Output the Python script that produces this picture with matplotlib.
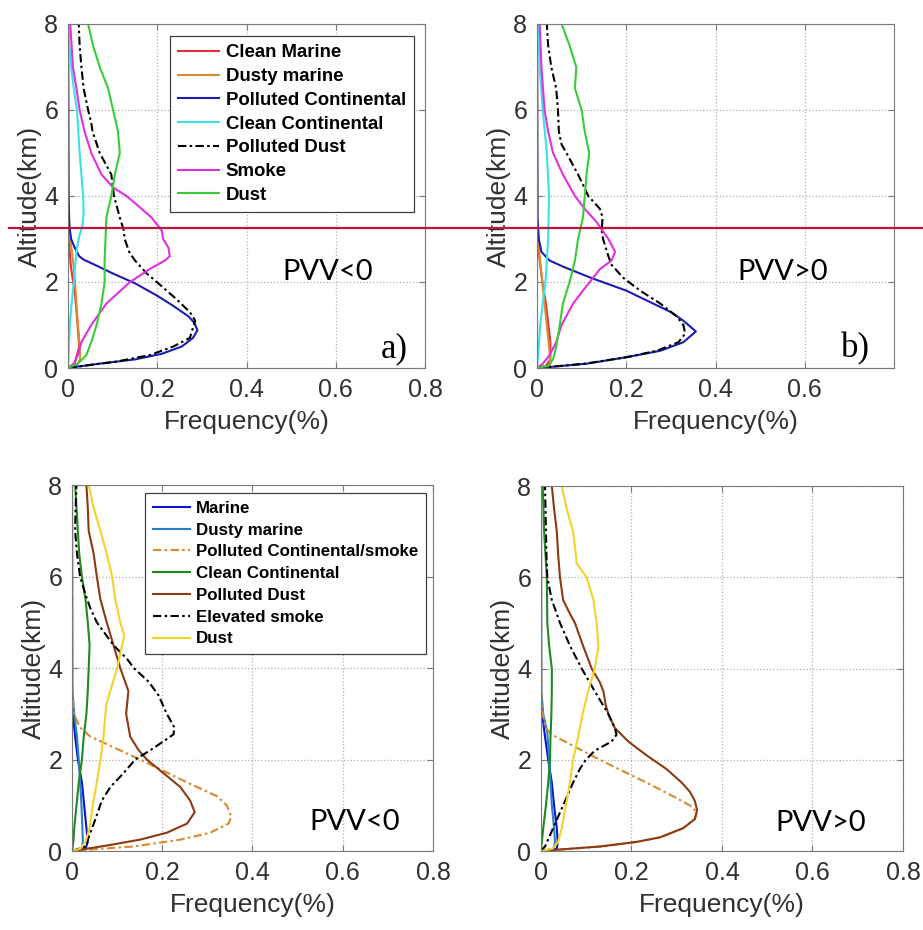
import matplotlib
matplotlib.use('Agg')
from matplotlib import pyplot as plt
from matplotlib.lines import Line2D
import numpy as np

# profiles are (frequency, altitude km) pairs, read bottom to top

# a) PVV<0, 2007-2010 subtypes
a_clean_marine = [(0, 0), (0.015, 0.1), (0.025, 0.5), (0.02, 1.2), (0.015, 1.8), (0.01, 2.1),
                  (0.006, 2.4), (0.003, 2.8), (0.001, 3.1), (0, 3.5), (0, 8)]
a_dusty_marine = [(0, 0), (0.02, 0.05), (0.027, 0.2), (0.027, 0.4), (0.024, 0.8), (0.02, 1.3),
                  (0.017, 1.8), (0.014, 2.2), (0.01, 2.6), (0.005, 3.0), (0.002, 3.5), (0.001, 4.5), (0, 8)]
a_polluted_cont = [(0, 0), (0.02, 0.03), (0.07, 0.1), (0.15, 0.2), (0.21, 0.33), (0.255, 0.5), (0.28, 0.7),
                   (0.29, 0.88), (0.283, 1.05), (0.27, 1.2), (0.235, 1.45), (0.2, 1.68), (0.15, 1.97),
                   (0.1, 2.2), (0.06, 2.4), (0.035, 2.52), (0.025, 2.6), (0.015, 2.8), (0.007, 3.0),
                   (0.003, 3.3), (0.001, 4), (0, 8)]
a_clean_cont = [(0, 0), (0.002, 0.5), (0.004, 1.0), (0.008, 1.5), (0.013, 2.0), (0.016, 2.4), (0.02, 2.8),
                (0.026, 3.1), (0.032, 3.3), (0.035, 3.6), (0.034, 4.0), (0.03, 4.5), (0.026, 5.0),
                (0.022, 5.7), (0.02, 6.0), (0.013, 6.5), (0.007, 7.0), (0.003, 7.5), (0.001, 8)]
a_polluted_dust = [(0, 0), (0.034, 0.05), (0.109, 0.15), (0.183, 0.3), (0.236, 0.5), (0.273, 0.7),
                   (0.279, 0.9), (0.285, 1.1), (0.273, 1.3), (0.243, 1.6), (0.199, 2.0), (0.176, 2.2),
                   (0.15, 2.5), (0.137, 2.7), (0.127, 3.0), (0.125, 3.2), (0.116, 3.5), (0.103, 4.0),
                   (0.097, 4.5), (0.071, 5.0), (0.055, 5.5), (0.052, 5.7), (0.045, 6.0), (0.035, 6.5),
                   (0.03, 7.0), (0.026, 7.5), (0.024, 8.0)]
a_smoke = [(0, 0), (0.013, 0.1), (0.022, 0.3), (0.03, 0.6), (0.052, 1.0), (0.086, 1.5), (0.139, 2.0),
           (0.183, 2.3), (0.217, 2.5), (0.228, 2.6), (0.225, 2.8), (0.213, 3.0), (0.21, 3.2), (0.187, 3.5),
           (0.154, 3.8), (0.131, 4.0), (0.101, 4.2), (0.075, 4.5), (0.052, 5.0), (0.037, 5.5), (0.026, 6.0),
           (0.019, 6.5), (0.011, 7.0), (0.008, 7.5), (0.005, 8.0)]
a_dust = [(0, 0), (0.022, 0.1), (0.041, 0.3), (0.052, 0.6), (0.064, 1.0), (0.075, 1.5), (0.082, 2.0),
          (0.082, 2.5), (0.084, 3.0), (0.086, 3.5), (0.097, 4.0), (0.105, 4.5), (0.116, 5.0), (0.112, 5.5),
          (0.101, 6.0), (0.09, 6.5), (0.071, 7.0), (0.056, 7.5), (0.045, 8.0)]

# b) PVV>0, 2007-2010 subtypes
b_clean_marine = [(0, 0), (0.02, 0.05), (0.03, 0.2), (0.03, 0.6), (0.02, 1.5), (0.012, 2.0), (0.006, 2.5),
                  (0.003, 2.8), (0.001, 3.1), (0, 3.5), (0, 8)]
b_dusty_marine = [(0, 0), (0.025, 0.05), (0.03, 0.1), (0.027, 0.5), (0.017, 1.5), (0.01, 2.2), (0.006, 2.6),
                  (0.003, 3.0), (0.001, 3.5), (0, 8)]
b_polluted_cont = [(0, 0), (0.036, 0.03), (0.111, 0.1), (0.2, 0.25), (0.276, 0.4), (0.328, 0.6),
                   (0.356, 0.85), (0.328, 1.1), (0.3, 1.3), (0.2, 1.8), (0.12, 2.1), (0.06, 2.35),
                   (0.028, 2.5), (0.01, 2.7), (0.004, 3.0), (0.001, 3.5), (0, 8)]
b_clean_cont = [(0, 0), (0.004, 0.5), (0.007, 1.0), (0.013, 1.5), (0.019, 2.0), (0.022, 2.5), (0.025, 3.0),
                (0.027, 4.0), (0.022, 5.0), (0.013, 6.0), (0.006, 7.0), (0.002, 8.0)]
b_polluted_dust = [(0, 0), (0.107, 0.1), (0.2, 0.25), (0.268, 0.4), (0.317, 0.6), (0.332, 0.8), (0.328, 1.0),
                   (0.313, 1.2), (0.276, 1.5), (0.231, 1.8), (0.193, 2.1), (0.167, 2.4), (0.16, 2.6),
                   (0.148, 3.0), (0.145, 3.2), (0.147, 3.5), (0.141, 3.7), (0.115, 4.0), (0.092, 4.5),
                   (0.066, 5.0), (0.055, 5.2), (0.049, 5.5), (0.047, 6.0), (0.043, 6.5), (0.032, 7.0),
                   (0.025, 7.5), (0.022, 8.0)]
b_smoke = [(0, 0), (0.013, 0.1), (0.028, 0.3), (0.043, 0.6), (0.055, 1.0), (0.081, 1.5), (0.103, 1.8),
           (0.126, 2.1), (0.141, 2.3), (0.167, 2.5), (0.175, 2.7), (0.16, 3.0), (0.133, 3.4), (0.107, 3.7),
           (0.085, 4.0), (0.058, 4.5), (0.036, 5.0), (0.025, 5.5), (0.017, 6.0), (0.01, 7.0), (0.006, 8.0)]
b_dust = [(0, 0), (0.025, 0.05), (0.036, 0.2), (0.043, 0.5), (0.051, 1.0), (0.058, 1.5), (0.073, 2.0),
          (0.085, 2.5), (0.092, 3.0), (0.103, 3.5), (0.107, 4.0), (0.111, 4.5), (0.117, 5.0), (0.107, 5.5),
          (0.1, 6.0), (0.085, 6.5), (0.088, 7.0), (0.073, 7.5), (0.055, 8.0)]

# c) PVV<0, new subtypes
c_marine = [(0, 0), (0.03, 0.05), (0.035, 0.2), (0.032, 0.5), (0.027, 1.0), (0.022, 1.5), (0.013, 2.0),
            (0.007, 2.5), (0.002, 3.0), (0, 3.3), (0, 8)]
c_dusty_marine = [(0, 0), (0.022, 0.05), (0.024, 0.2), (0.023, 0.5), (0.021, 1.0), (0.018, 1.5), (0.015, 2.0),
                  (0.011, 2.5), (0.005, 3.0), (0.001, 3.5), (0, 8)]
c_pc_smoke = [(0, 0), (0.063, 0.05), (0.137, 0.1), (0.24, 0.25), (0.306, 0.4), (0.347, 0.6), (0.353, 0.75),
              (0.343, 1.0), (0.321, 1.2), (0.255, 1.5), (0.151, 2.0), (0.041, 2.5), (0.018, 2.7),
              (0.004, 3.0), (0.001, 3.5), (0, 8)]
c_clean_cont = [(0, 0), (0.003, 0.2), (0.005, 0.5), (0.01, 1.0), (0.015, 1.5), (0.022, 2.0), (0.026, 2.5),
                (0.032, 3.0), (0.035, 3.5), (0.037, 4.0), (0.039, 4.5), (0.035, 5.0), (0.03, 5.5), (0.022, 6.0),
                (0.016, 6.5), (0.013, 7.0), (0.01, 7.5), (0.007, 8.0)]
c_polluted_dust = [(0, 0), (0.033, 0.05), (0.077, 0.12), (0.151, 0.25), (0.21, 0.4), (0.255, 0.6),
                   (0.272, 0.85), (0.262, 1.1), (0.24, 1.4), (0.203, 1.7), (0.166, 2.0), (0.148, 2.2),
                   (0.129, 2.5), (0.12, 3.0), (0.125, 3.5), (0.107, 4.0), (0.092, 4.5), (0.077, 5.0),
                   (0.063, 5.5), (0.055, 6.0), (0.048, 6.5), (0.037, 7.0), (0.035, 7.5), (0.032, 8.0)]
c_elev_smoke = [(0, 0), (0.03, 0.1), (0.037, 0.3), (0.052, 0.7), (0.066, 1.1), (0.085, 1.4), (0.114, 1.7),
                (0.14, 2.0), (0.173, 2.2), (0.203, 2.4), (0.225, 2.55), (0.227, 2.7), (0.21, 3.0),
                (0.192, 3.4), (0.17, 3.7), (0.137, 4.0), (0.122, 4.2), (0.092, 4.5), (0.055, 5.0),
                (0.041, 5.3), (0.03, 5.6), (0.018, 6.0), (0.011, 6.5), (0.007, 7.0), (0.008, 7.5), (0.01, 8.0)]
c_dust = [(0, 0), (0.018, 0.05), (0.03, 0.2), (0.039, 0.5), (0.046, 1.0), (0.055, 1.5), (0.063, 2.0),
          (0.07, 2.5), (0.074, 3.0), (0.076, 3.2), (0.085, 3.5), (0.1, 4.0), (0.111, 4.5), (0.116, 4.7),
          (0.107, 5.0), (0.096, 5.5), (0.089, 6.0), (0.077, 6.5), (0.063, 7.0), (0.048, 7.5), (0.037, 8.0)]

# d) PVV>0, new subtypes
d_marine = [(0, 0), (0.035, 0.05), (0.037, 0.2), (0.035, 0.5), (0.029, 1.0), (0.024, 1.5), (0.016, 2.0),
            (0.009, 2.5), (0.004, 2.9), (0.001, 3.1), (0, 3.5), (0, 8)]
d_dusty_marine = [(0, 0), (0.028, 0.05), (0.031, 0.2), (0.029, 0.5), (0.024, 1.0), (0.021, 1.5), (0.018, 2.0),
                  (0.014, 2.6), (0.005, 3.0), (0.001, 3.5), (0, 8)]
d_pc_smoke = [(0, 0), (0.064, 0.05), (0.138, 0.1), (0.211, 0.2), (0.263, 0.3), (0.314, 0.5), (0.34, 0.7),
              (0.345, 0.85), (0.329, 1.0), (0.292, 1.2), (0.233, 1.5), (0.13, 2.0), (0.024, 2.55),
              (0.01, 2.7), (0.004, 3.0), (0.001, 3.3), (0, 8)]
d_clean_cont = [(0, 0), (0.005, 0.5), (0.011, 1.0), (0.016, 1.5), (0.02, 2.0), (0.021, 2.5), (0.023, 3.0),
                (0.024, 3.5), (0.024, 4.0), (0.018, 4.5), (0.014, 5.0), (0.013, 6.0), (0.007, 7.0), (0.004, 8.0)]
d_polluted_dust = [(0, 0), (0.064, 0.05), (0.13, 0.1), (0.211, 0.2), (0.263, 0.3), (0.314, 0.5), (0.34, 0.7),
                   (0.345, 0.9), (0.34, 1.1), (0.329, 1.3), (0.311, 1.5), (0.277, 1.8), (0.233, 2.1),
                   (0.193, 2.4), (0.163, 2.7), (0.149, 3.0), (0.143, 3.2), (0.138, 3.5), (0.13, 3.7),
                   (0.112, 4.0), (0.093, 4.5), (0.075, 5.0), (0.064, 5.2), (0.049, 5.5), (0.042, 6.0),
                   (0.038, 6.5), (0.035, 7.0), (0.029, 7.5), (0.024, 8.0)]
d_elev_smoke = [(0, 0), (0.009, 0.1), (0.018, 0.3), (0.031, 0.6), (0.049, 1.0), (0.071, 1.5), (0.086, 1.8),
                (0.099, 2.0), (0.119, 2.2), (0.156, 2.4), (0.167, 2.55), (0.163, 2.7), (0.149, 3.0),
                (0.119, 3.5), (0.09, 4.0), (0.064, 4.5), (0.042, 5.0), (0.035, 5.2), (0.024, 5.5),
                (0.014, 6.0), (0.012, 6.5), (0.011, 7.0), (0.01, 7.5), (0.009, 8.0)]
d_dust = [(0, 0), (0.025, 0.05), (0.038, 0.2), (0.046, 0.5), (0.055, 1.0), (0.064, 1.5), (0.071, 2.0),
          (0.082, 2.5), (0.092, 3.0), (0.104, 3.5), (0.119, 4.0), (0.127, 4.5), (0.123, 5.0), (0.116, 5.5),
          (0.101, 6.0), (0.079, 6.3), (0.077, 6.5), (0.071, 7.0), (0.057, 7.5), (0.046, 8.0)]

old_labels = ['Clean Marine', 'Dusty marine', 'Polluted Continental', 'Clean Continental',
              'Polluted Dust', 'Smoke', 'Dust']
new_labels = ['Marine', 'Dusty marine', 'Polluted Continental/smoke', 'Clean Continental',
              'Polluted Dust', 'Elevated smoke', 'Dust']

DASHDOT = (0, (4, 1.6, 1.2, 1.6))
old_styles = [('#e0303a', '-'), ('#d98c30', '-'), ('#1c1cb4', '-'), ('#38e2e8', '-'),
              ('black', DASHDOT), ('#e030e0', '-'), ('#38cc38', '-')]
new_styles = [('#0a14d0', '-'), ('#2a80c4', '-'), ('#d88a2c', DASHDOT), ('#1e8a1e', '-'),
              ('#8c3a12', '-'), ('black', DASHDOT), ('#f2d428', '-')]

plt.rcParams['font.family'] = ['Liberation Sans', 'DejaVu Sans']


def draw_panel(rect, profiles, styles, labels, note, tag=None, xticks=(0, 0.2, 0.4, 0.6, 0.8),
               legend=None):
    ax = fig.add_axes(rect)
    for prof, (color, ls), lab in zip(profiles, styles, labels):
        p = np.array(prof)
        ax.plot(p[:, 0], p[:, 1], color=color, linestyle=ls, lw=1.5, label=lab)
    ax.set_xlim(0, 0.8)
    ax.set_ylim(0, 8)
    ax.set_xticks(xticks)
    ax.set_xticklabels(['0' if t == 0 else '%g' % t for t in xticks])
    ax.set_yticks([0, 2, 4, 6, 8])
    ax.grid(True, linestyle=':', color='#b0b0b0', lw=0.9)
    ax.tick_params(direction='in', length=4, top=True, right=True, labelsize=18,
                   colors='#7a7a7a', labelcolor='#303030', pad=7)
    for s in ax.spines.values():
        s.set_color('#7a7a7a')
    ax.set_xlabel('Frequency(%)', fontsize=19, color='#303030', labelpad=6)
    ax.set_ylabel('Altitude(km)', fontsize=19, color='#303030', labelpad=2)
    ax.text(note[0], note[1], note[2], fontsize=21, family='Lato', color='black')
    if tag is not None:
        ax.text(tag[0], tag[1], tag[2], fontsize=25, family='Liberation Serif', color='black')
    if legend is not None:
        leg = ax.legend(loc='upper right', bbox_to_anchor=legend[0], prop={'weight': 'bold', 'size': legend[1]},
                        handlelength=2.2, handletextpad=0.35, labelspacing=legend[2], borderpad=0.45,
                        fancybox=False, framealpha=1, edgecolor='#404040', borderaxespad=0)
        leg.get_frame().set_linewidth(0.9)
    return ax


fig = plt.figure(figsize=(9.23, 9.30), dpi=100)

draw_panel([0.0737, 0.6043, 0.3868, 0.3699],
           [a_clean_marine, a_dusty_marine, a_polluted_cont, a_clean_cont, a_polluted_dust, a_smoke, a_dust],
           old_styles, old_labels, (0.48, 2.05, 'PVV<0'), tag=(0.70, 0.25, 'a)'),
           legend=((0.97, 0.965), 13.4, 0.36))
draw_panel([0.5818, 0.6043, 0.3868, 0.3699],
           [b_clean_marine, b_dusty_marine, b_polluted_cont, b_clean_cont, b_polluted_dust, b_smoke, b_dust],
           old_styles, old_labels, (0.45, 2.05, 'PVV>0'), tag=(0.68, 0.25, 'b)'),
           xticks=(0, 0.2, 0.4, 0.6))
draw_panel([0.078, 0.0849, 0.3911, 0.3935],
           [c_marine, c_dusty_marine, c_pc_smoke, c_clean_cont, c_polluted_dust, c_elev_smoke, c_dust],
           new_styles, new_labels, (0.525, 0.45, 'PVV<0'),
           legend=((0.98, 0.978), 12.2, 0.4))
draw_panel([0.5861, 0.0849, 0.3922, 0.3925],
           [d_marine, d_dusty_marine, d_pc_smoke, d_clean_cont, d_polluted_dust, d_elev_smoke, d_dust],
           new_styles, new_labels, (0.517, 0.45, 'PVV>0'))

# horizontal marker line across the upper row
fig.add_artist(Line2D([9 / 923, 1.0], [1 - 228 / 930, 1 - 228 / 930], color='#c0143c', lw=1.6))

fig.savefig('out.png', dpi=100)
